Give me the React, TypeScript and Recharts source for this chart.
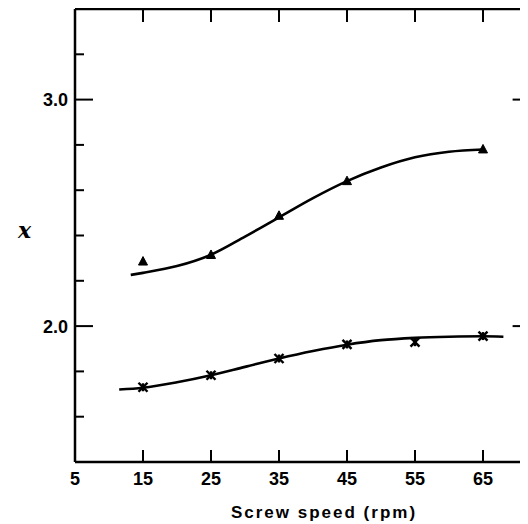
import React from "react";
import {
  ComposedChart,
  Line,
  Scatter,
  XAxis,
  YAxis,
} from "recharts";

// measured points
const triX = [15, 25, 35, 45, 65];
const triY = [2.285, 2.314, 2.487, 2.64, 2.78];
const crossX = [15, 25, 35, 45, 55, 65];
const crossY = [1.73, 1.783, 1.857, 1.919, 1.929, 1.956];

// fitted curves
const upperCurveX = [13.2, 15, 20, 25, 30, 35, 40, 45, 50, 55, 60, 65];
const upperCurveY = [2.226, 2.235, 2.265, 2.315, 2.395, 2.48, 2.565, 2.64, 2.7, 2.745, 2.77, 2.78];
const lowerCurveX = [11.5, 15, 20, 25, 30, 35, 40, 45, 50, 55, 60, 65, 68];
const lowerCurveY = [1.72, 1.728, 1.752, 1.783, 1.82, 1.857, 1.89, 1.918, 1.938, 1.948, 1.953, 1.955, 1.953];

const xTicks = [5, 15, 25, 35, 45, 55, 65];
const yTicks = [1.6, 1.8, 2.0, 2.2, 2.4, 2.6, 2.8, 3.0, 3.2];
const yLabels: Record<string, string> = { "2": "2.0", "3": "3.0" };

const zip = (xs: number[], ys: number[]) => xs.map((x, i) => ({ x, y: ys[i] }));

const tri = zip(triX, triY);
const cross = zip(crossX, crossY);
const upperCurve = zip(upperCurveX, upperCurveY);
const lowerCurve = zip(lowerCurveX, lowerCurveY);

const font = "'Liberation Sans', Arial, sans-serif";
const ink = "#000";
const isMajor = (v: number) => Math.abs(v - 2) < 1e-6 || Math.abs(v - 3) < 1e-6;

const BottomTick = (p: any) => {
  const v = p.payload.value;
  return (
    <g>
      {v !== 5 && <line x1={p.x} x2={p.x} y1={p.y} y2={p.y - 12} stroke={ink} strokeWidth={2} />}
      <text x={p.x} y={p.y + 23} textAnchor="middle" fontFamily={font} fontWeight="bold" fontSize={18} fill={ink}>
        {v}
      </text>
    </g>
  );
};

const TopTick = (p: any) =>
  p.payload.value === 5 ? <g /> : (
    <line x1={p.x} x2={p.x} y1={p.y} y2={p.y + 13} stroke={ink} strokeWidth={2} />
  );

const LeftTick = (p: any) => {
  const v = p.payload.value;
  const len = isMajor(v) ? 18 : 9;
  const lbl = yLabels[String(Math.round(v * 10) / 10)];
  return (
    <g>
      <line x1={p.x} x2={p.x + len} y1={p.y} y2={p.y} stroke={ink} strokeWidth={2} />
      {lbl && (
        <text x={p.x - 7} y={p.y} dy="0.36em" textAnchor="end" fontFamily={font} fontWeight="bold" fontSize={18} fill={ink}>
          {lbl}
        </text>
      )}
    </g>
  );
};

const RightTick = (p: any) => {
  const len = isMajor(p.payload.value) ? 18 : 9;
  return <line x1={p.x} x2={p.x - len} y1={p.y} y2={p.y} stroke={ink} strokeWidth={2} />;
};

const Triangle = (p: any) => (
  <polygon
    points={`${p.cx},${p.cy - 5} ${p.cx - 4.5},${p.cy + 3.5} ${p.cx + 4.5},${p.cy + 3.5}`}
    fill={ink}
    stroke={ink}
    strokeWidth={1}
  />
);

const Cross = (p: any) => (
  <g stroke={ink} strokeWidth={2.4}>
    <line x1={p.cx - 4.5} y1={p.cy - 4.5} x2={p.cx + 4.5} y2={p.cy + 4.5} />
    <line x1={p.cx - 4.5} y1={p.cy + 4.5} x2={p.cx + 4.5} y2={p.cy - 4.5} />
    <line x1={p.cx} y1={p.cy - 4} x2={p.cx} y2={p.cy + 4} />
  </g>
);

export default function App() {
  return (
    <div style={{ width: 520, height: 516, overflow: "hidden", background: "#fff" }}>
      <ComposedChart width={540} height={516} margin={{ top: 0, right: 16.4, bottom: 0, left: 0 }}>
        <XAxis
          xAxisId="b"
          type="number"
          dataKey="x"
          domain={[5, 72]}
          ticks={xTicks}
          interval={0}
          allowDataOverflow
          height={62}
          tickSize={0}
          tickMargin={0}
          tickLine={false}
          axisLine={{ stroke: ink, strokeWidth: 2.5 }}
          tick={<BottomTick />}
          label={{
            content: (lp: any) => (
              <text
                x={lp.viewBox.x + 249}
                y={lp.viewBox.y + 56}
                textAnchor="middle"
                fontFamily={font}
                fontWeight="bold"
                fontSize={17}
                letterSpacing={2}
                fill={ink}
              >
                Screw speed (rpm)
              </text>
            ),
          }}
        />
        <XAxis
          xAxisId="t"
          orientation="top"
          type="number"
          dataKey="x"
          domain={[5, 72]}
          ticks={xTicks}
          interval={0}
          allowDataOverflow
          height={1}
          tickSize={0}
          tickMargin={0}
          tickLine={false}
          axisLine={{ stroke: ink, strokeWidth: 2.5 }}
          tick={<TopTick />}
        />
        <YAxis
          yAxisId="l"
          type="number"
          domain={[1.4, 3.4]}
          ticks={yTicks}
          interval={0}
          allowDataOverflow
          width={67}
          tickSize={0}
          tickMargin={0}
          tickLine={false}
          axisLine={{ stroke: ink, strokeWidth: 2.5 }}
          tick={<LeftTick />}
          label={{
            content: (lp: any) => (
              <text
                x={lp.viewBox.x + 10}
                y={lp.viewBox.y + 229}
                fontFamily="'DejaVu Serif', serif"
                fontStyle="italic"
                fontWeight="bold"
                fontSize={22}
                fill={ink}
              >
                x
              </text>
            ),
          }}
        />
        <YAxis
          yAxisId="r"
          orientation="right"
          type="number"
          domain={[1.4, 3.4]}
          ticks={yTicks}
          interval={0}
          allowDataOverflow
          width={1}
          tickSize={0}
          tickMargin={0}
          tickLine={false}
          axisLine={{ stroke: ink, strokeWidth: 2.5 }}
          tick={<RightTick />}
        />
        <Line
          xAxisId="b"
          yAxisId="l"
          data={upperCurve}
          dataKey="y"
          type="monotone"
          stroke={ink}
          strokeWidth={2.6}
          dot={false}
          isAnimationActive={false}
        />
        <Line
          xAxisId="b"
          yAxisId="l"
          data={lowerCurve}
          dataKey="y"
          type="monotone"
          stroke={ink}
          strokeWidth={2.6}
          dot={false}
          isAnimationActive={false}
        />
        <Scatter xAxisId="b" yAxisId="l" data={tri} dataKey="y" shape={<Triangle />} isAnimationActive={false} />
        <Scatter xAxisId="b" yAxisId="l" data={cross} dataKey="y" shape={<Cross />} isAnimationActive={false} />
      </ComposedChart>
    </div>
  );
}
